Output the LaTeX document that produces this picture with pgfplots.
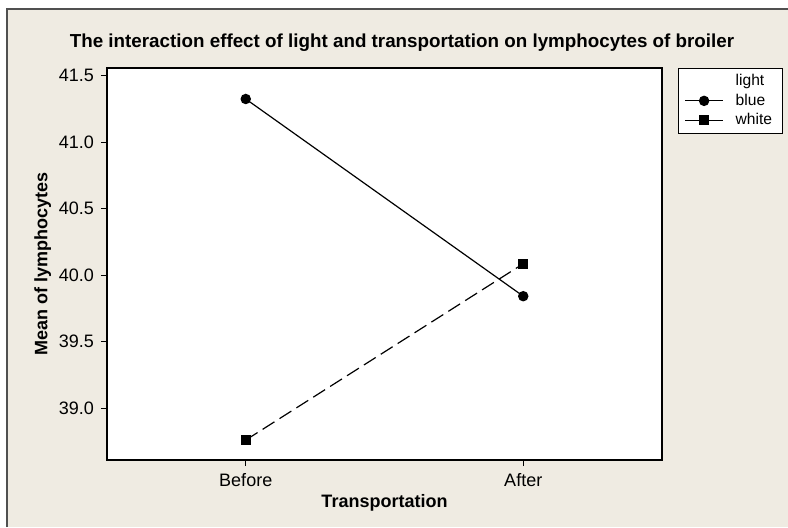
\documentclass[border=0pt]{standalone}
\usepackage{pgfplots}
\pgfplotsset{compat=1.18}
\usepackage{fontspec}
\setmainfont{Liberation Sans}
\definecolor{bgbeige}{RGB}{239,235,226}
\definecolor{framegray}{RGB}{80,80,80}
\begin{document}
\begin{tikzpicture}
\useasboundingbox (0pt,0pt) rectangle (394pt,-263.5pt);
\fill[white] (0pt,0pt) rectangle (394pt,-263.5pt);
\fill[bgbeige] (3.5pt,-4.5pt) rectangle (394pt,-263.5pt);
\draw[framegray, line width=1pt] (3.5pt,-263.5pt) -- (3.5pt,-4.5pt) -- (394pt,-4.5pt);
\node[font=\bfseries\fontsize{9.4}{11}\selectfont, anchor=center] at (201pt,-21.5pt) {The interaction effect of light and transportation on lymphocytes of broiler};
\begin{axis}[
  at={(53.5pt,-34pt)}, anchor=north west,
  scale only axis, width=277.5pt, height=196pt,
  xmin=-0.5, xmax=1.5, ymin=38.61, ymax=41.558,
  axis background/.style={fill=white},
  axis line style={black, line width=0.6pt},
  xtick={0,1}, xticklabels={Before,After},
  ytick={39,39.5,40,40.5,41,41.5},
  yticklabel style={/pgf/number format/.cd, fixed, fixed zerofill, precision=1},
  /pgf/number format/assume math mode=true,
  tick align=outside, xtick pos=lower, ytick pos=left,
  major tick length=3pt,
  tick style={black, line width=0.5pt},
  ticklabel style={font=\fontsize{9}{11}\selectfont},
  xlabel={\bfseries Transportation},
  ylabel={\bfseries Mean of lymphocytes},
  label style={font=\bfseries\fontsize{9}{11}\selectfont},
  xlabel style={yshift=3pt},
  ylabel style={yshift=-3pt},
  legend image code/.code={\draw[mark repeat=2,mark phase=2,#1,solid] plot coordinates {(0pt,0pt) (9.5pt,0pt) (19pt,0pt)};},
  legend style={at={(1.029,1)}, anchor=north west, draw=black, fill=white,
    font=\fontsize{7.8}{8.5}\selectfont, inner xsep=3pt, inner ysep=1pt, row sep=-1.5pt,
    cells={anchor=west}},
]
\addlegendimage{empty legend}
\addlegendentry{\hspace{4pt}light}
\addplot[black, line width=0.6pt, mark=*, mark size=2.3pt] coordinates {(0,41.325) (1,39.842)};
\addlegendentry{\hspace{4pt}blue}
\addplot[black, line width=0.6pt, dash pattern=on 7pt off 3pt, mark=square*, mark size=2.2pt, mark options={solid}] coordinates {(0,38.76) (1,40.086)};
\addlegendentry{\hspace{4pt}white}
\end{axis}
\end{tikzpicture}
\end{document}
